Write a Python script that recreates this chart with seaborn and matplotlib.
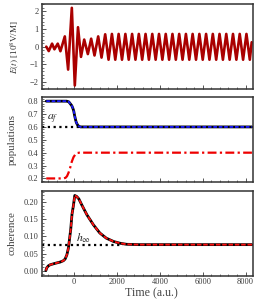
import numpy as np
import pandas as pd
import matplotlib
matplotlib.use("Agg")
import matplotlib.pyplot as plt
import seaborn as sns
from matplotlib.ticker import MultipleLocator

sns.set_theme(style="white")
plt.rcParams['font.family'] = ['Liberation Serif', 'DejaVu Serif']
plt.rcParams['mathtext.fontset'] = 'stix'

# ---------------- data ----------------
# Electric field E(t): successive extrema (and endpoints)
E_t = [-1300, -1185, -1030, -920, -765, -640, -435, -280, -108, 31, 180, 320, 470, 640, 795,
       951, 1123, 1279, 1450, 1607, 1764, 1921, 2078, 2235, 2392, 2549, 2706, 2863, 3020,
       3177, 3334, 3491, 3648, 3805, 3962, 4119, 4276, 4433, 4590, 4747, 4904, 5061, 5218,
       5375, 5532, 5689, 5846, 6003, 6160, 6317, 6474, 6631, 6788, 6945, 7102, 7259, 7416,
       7573, 7730, 7887, 8044, 8201, 8290]
E_v = [0.0, -0.25, 0.17, -0.15, 0.17, -0.26, 0.58, -1.3, 2.2, -2.2, 1.1, -0.58, 0.4, -0.42,
       0.45, -0.5, 0.58, -0.62, 0.7, -0.74, 0.72, -0.74, 0.72, -0.74, 0.72, -0.74, 0.72,
       -0.74, 0.72, -0.74, 0.72, -0.74, 0.72, -0.74, 0.72, -0.74, 0.72, -0.74, 0.72, -0.74,
       0.72, -0.74, 0.72, -0.74, 0.72, -0.74, 0.72, -0.74, 0.72, -0.74, 0.72, -0.74, 0.72,
       -0.74, 0.72, -0.74, 0.72, -0.74, 0.72, -0.74, 0.72, -0.74, 0.25]

# populations
popA_t = [-1300, -350, -250, -180, -110, -60, -20, 20, 60, 100, 160, 220, 300, 400, 8300]
popA_v = [0.80, 0.80, 0.795, 0.78, 0.765, 0.745, 0.725, 0.69, 0.66, 0.635, 0.615, 0.605,
          0.60, 0.60, 0.60]
popB_t = [-1300, -500, -400, -330, -260, -190, -110, -30, 50, 130, 250, 8300]
popB_v = [0.20, 0.20, 0.205, 0.218, 0.245, 0.28, 0.33, 0.365, 0.385, 0.397, 0.40, 0.40]
a_f = 0.60
a_f_end = 300

# coherence
coh_t = [-1320, -1280, -1200, -1120, -900, -650, -500, -420, -340, -270, -220, -160, -100,
         -40, 30, 120, 220, 360, 600, 900, 1200, 1500, 1850, 2150, 2450, 3000, 4000, 5000,
         6000, 7000, 8300]
coh_v = [0.0, 0.008, 0.014, 0.017, 0.021, 0.025, 0.029, 0.034, 0.046, 0.065, 0.09, 0.12,
         0.165, 0.188, 0.22, 0.217, 0.21, 0.192, 0.163, 0.134, 0.11, 0.095, 0.085, 0.080,
         0.077, 0.076, 0.076, 0.076, 0.076, 0.076, 0.076]
h_inf = 0.075
h_inf_end = 2300

x_ticks = [0, 2000, 4000, 6000, 8000]
xlim = (-1500, 8350)

# ---------------- figure ----------------
fig = plt.figure(figsize=(2.6, 2.99), dpi=100)
left, width = 42 / 260, 211 / 260
ax1 = fig.add_axes([left, 1 - 89 / 299, width, 84.7 / 299])
ax2 = fig.add_axes([left, 1 - 182.3 / 299, width, 85 / 299])
ax3 = fig.add_axes([left, 1 - 275.7 / 299, width, 85 / 299])

red_dark = '#aa0000'
tick_col = '#3a3a3a'

sns.lineplot(x=E_t, y=E_v, ax=ax1, color=red_dark, lw=1.9, estimator=None, sort=False,
             solid_joinstyle='round', solid_capstyle='round')

sns.lineplot(x=[xlim[0], a_f_end], y=[a_f, a_f], ax=ax2, color='black', lw=1.6,
             linestyle=(0, (1, 1.6)), estimator=None)
sns.lineplot(x=popA_t, y=popA_v, ax=ax2, color='black', lw=2.0, estimator=None, sort=False)
sns.lineplot(x=popA_t, y=popA_v, ax=ax2, color='#1a1aff', lw=1.3, linestyle=(0, (2, 1)),
             estimator=None, sort=False)
sns.lineplot(x=popB_t, y=popB_v, ax=ax2, color='#ee0000', lw=1.6,
             linestyle=(0, (4, 1.5, 1, 1.5)), estimator=None, sort=False)

sns.lineplot(x=[xlim[0], h_inf_end], y=[h_inf, h_inf], ax=ax3, color='black', lw=1.6,
             linestyle=(0, (1, 1.6)), estimator=None)
sns.lineplot(x=coh_t, y=coh_v, ax=ax3, color='black', lw=2.0, estimator=None, sort=False)
sns.lineplot(x=coh_t, y=coh_v, ax=ax3, color='#ff1010', lw=1.3, linestyle=(0, (2.5, 1)),
             estimator=None, sort=False)

ax2.text(-1020, 0.66, r'$a_f$', fontsize=8.5, ha='center', va='center', color='#222222')
ax3.text(420, 0.096, r'$h_\infty$', fontsize=8.5, ha='center', va='center', color='#222222')

ax1.set_ylim(-2.4, 2.4)
ax1.set_yticks([-2, -1, 0, 1, 2])
ax1.yaxis.set_minor_locator(MultipleLocator(0.2))
ax2.set_ylim(0.17, 0.83)
ax2.set_yticks([0.2, 0.3, 0.4, 0.5, 0.6, 0.7, 0.8])
ax2.set_yticklabels([f'{v:.1f}' for v in [0.2, 0.3, 0.4, 0.5, 0.6, 0.7, 0.8]])
ax2.yaxis.set_minor_locator(MultipleLocator(0.02))
ax3.set_ylim(-0.015, 0.234)
ax3.set_yticks([0.0, 0.05, 0.10, 0.15, 0.20])
ax3.set_yticklabels([f'{v:.2f}' for v in [0.0, 0.05, 0.10, 0.15, 0.20]])
ax3.yaxis.set_minor_locator(MultipleLocator(0.01))

for ax in (ax1, ax2, ax3):
    ax.set_xlim(*xlim)
    ax.set_xticks(x_ticks)
    ax.xaxis.set_minor_locator(MultipleLocator(400))
    ax.tick_params(which='both', direction='in', colors=tick_col, labelsize=6,
                   bottom=True, left=True, top=False, right=False, pad=2.5)
    ax.tick_params(which='major', length=3, width=0.6)
    ax.tick_params(which='minor', length=1.6, width=0.5)
    for s in ax.spines.values():
        s.set_color('#333333')
        s.set_linewidth(1.1)
    ax.set_xlabel('')
    ax.set_ylabel('')

ax1.tick_params(labelbottom=False)
ax2.tick_params(labelbottom=False)
ax3.tick_params(axis='x', pad=1.5)
ax3.set_xticklabels([str(v) for v in x_ticks])

ax1.set_ylabel(r'$E(t)$ [10$^8$V/M]', fontsize=6.6, color='#333333')
ax1.yaxis.set_label_coords(-0.1, 0.5)
ax2.set_ylabel('populations', fontsize=7.8, color='#444444')
ax2.yaxis.set_label_coords(-0.118, 0.5)
ax3.set_ylabel('coherence', fontsize=7.8, color='#444444')
ax3.yaxis.set_label_coords(-0.118, 0.5)
ax3.set_xlabel('Time (a.u.)', fontsize=8.6, color='#444444')
ax3.xaxis.set_label_coords(0.519, -0.14)

fig.savefig('out.png', dpi=100)
